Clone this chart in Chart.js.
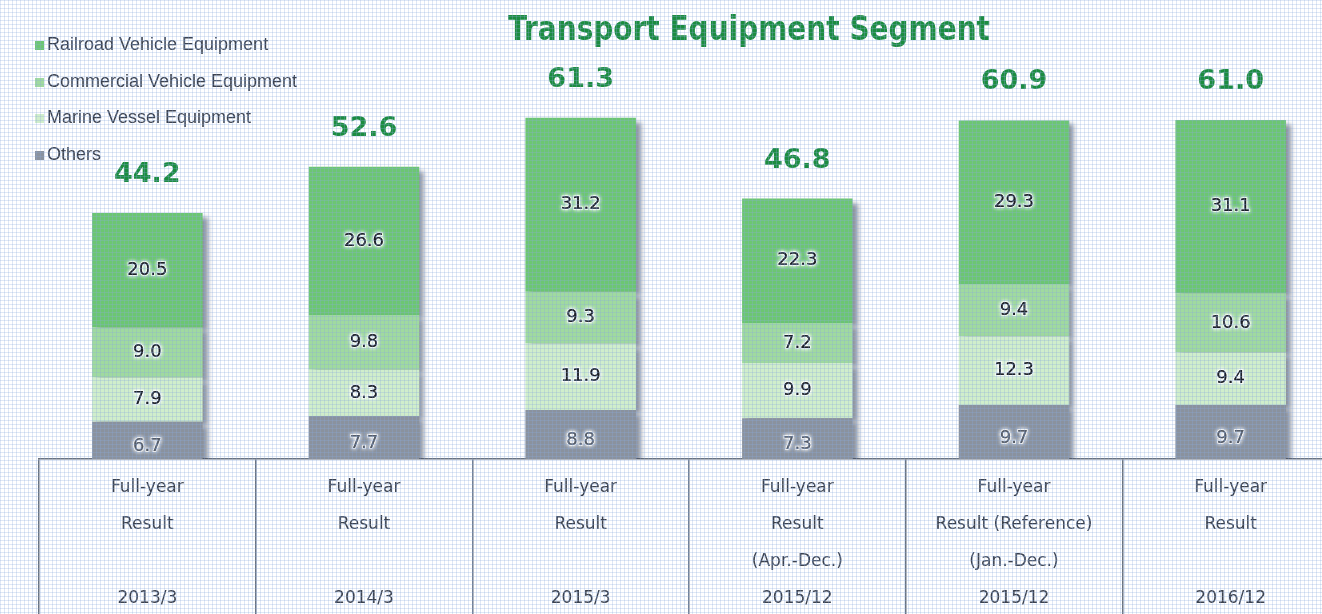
<!DOCTYPE html>
<html>
<head>
<meta charset="utf-8">
<title>Transport Equipment Segment</title>
<script src="https://cdn.jsdelivr.net/npm/chart.js@4.4.1/dist/chart.umd.min.js"></script>
<style>
  html, body { margin: 0; padding: 0; width: 1322px; height: 614px; overflow: hidden; background: #fff; }
  #wrap { position: relative; width: 1322px; height: 614px; overflow: hidden; }
  #chart { position: absolute; left: 0; top: 0; }
  /* fine blue grid that sits over the whole slide */
  #grid { position: absolute; left: 0; top: 0; right: 0; bottom: 0; pointer-events: none;
    background-image: linear-gradient(to right, rgba(140,170,220,.28) 1px, transparent 1px),
                      linear-gradient(to bottom, rgba(140,170,220,.28) 1px, transparent 1px);
    background-size: 4px 4px; }
</style>
</head>
<body>
<div id="wrap">
  <canvas id="chart" width="1345" height="614"></canvas>
  <div id="grid"></div>
</div>
<script>
// Periods shown in the table under the bars
const periods = ['2013/3', '2014/3', '2015/3', '2015/12', '2015/12', '2016/12'];
const periodNotes = [
    ['Full-year', 'Result', ''],
    ['Full-year', 'Result', ''],
    ['Full-year', 'Result', ''],
    ['Full-year', 'Result', '(Apr.-Dec.)'],
    ['Full-year', 'Result (Reference)', '(Jan.-Dec.)'],
    ['Full-year', 'Result', '']
];

// Sales by sub-segment (bottom of the stack is "Others")
const railroad = [20.5, 26.6, 31.2, 22.3, 29.3, 31.1];
const commercial = [9.0, 9.8, 9.3, 7.2, 9.4, 10.6];
const marine = [7.9, 8.3, 11.9, 9.9, 12.3, 9.4];
const others = [6.7, 7.7, 8.8, 7.3, 9.7, 9.7];
const totals = [44.2, 52.6, 61.3, 46.8, 60.9, 61.0];

const seriesNames = ['Railroad Vehicle Equipment', 'Commercial Vehicle Equipment', 'Marine Vessel Equipment', 'Others'];
const seriesColors = ['#6cc672', '#a0da9f', '#d0eecb', '#8a929e'];

const tickLabels = periods.map((p, i) => [...periodNotes[i], p]);

const green = '#1c8c40';
const textGray = '#3b4250';

// Title, legend, value labels, totals and the bar shadow
const segmentDecor = {
    id: 'segmentDecor',
    beforeDatasetsDraw(chart) {
        const ctx = chart.ctx;
        ctx.save();
        ctx.shadowColor = 'rgba(60, 70, 90, 0.6)';
        ctx.shadowBlur = 5;
        ctx.shadowOffsetX = 5;
        ctx.shadowOffsetY = 4;
    },
    afterDatasetsDraw(chart) {
        const ctx = chart.ctx;
        ctx.restore();

        // values inside each segment
        ctx.save();
        ctx.font = '18px "DejaVu Sans"';
        ctx.textAlign = 'center';
        ctx.textBaseline = 'middle';
        chart.data.datasets.forEach((ds, di) => {
            const meta = chart.getDatasetMeta(di);
            meta.data.forEach((bar, i) => {
                const { x, y, base } = bar.getProps(['x', 'y', 'base'], true);
                const txt = ds.data[i].toFixed(1);
                const isOthers = ds.label === 'Others';
                const ty = (y + base) / 2 + (isOthers ? 6 : 0);
                ctx.shadowColor = '#ffffff';
                ctx.shadowBlur = 4;
                ctx.strokeStyle = 'rgba(255,255,255,0.7)';
                ctx.lineWidth = 2;
                ctx.strokeText(txt, x, ty);
                ctx.fillStyle = isOthers ? '#555c68' : '#1c2028';
                ctx.fillText(txt, x, ty);
                ctx.fillText(txt, x, ty);
            });
        });
        ctx.restore();
    },
    afterDraw(chart) {
        const ctx = chart.ctx;
        const xScale = chart.scales.x;

        // totals above the stacks
        const topMeta = chart.getDatasetMeta(chart.data.datasets.length - 1);
        ctx.save();
        ctx.font = 'bold 27px "DejaVu Sans"';
        ctx.fillStyle = green;
        ctx.textAlign = 'center';
        ctx.textBaseline = 'alphabetic';
        totals.forEach((t, i) => {
            const bar = topMeta.data[i];
            ctx.fillText(t.toFixed(1), xScale.getPixelForValue(i), bar.y - 31);
        });

        // title
        const title = 'Transport Equipment Segment';
        ctx.font = 'bold 33px "DejaVu Sans"';
        const w = ctx.measureText(title).width;
        ctx.translate(749, 40);
        ctx.scale(482 / w, 1);
        ctx.fillText(title, 0, 0);
        ctx.restore();

        // legend
        ctx.save();
        ctx.font = '18px "Liberation Sans"';
        ctx.textBaseline = 'middle';
        ctx.textAlign = 'left';
        const rows = [45, 82, 118, 155];
        seriesNames.forEach((name, i) => {
            ctx.fillStyle = seriesColors[i];
            ctx.fillRect(35, rows[i] - 4, 9, 9);
            ctx.fillStyle = textGray;
            ctx.fillText(name, 47, rows[i]);
        });
        ctx.restore();
    }
};

const ctx = document.getElementById('chart').getContext('2d');

const stackOrder = [
    { label: 'Others', data: others, color: seriesColors[3] },
    { label: 'Marine Vessel Equipment', data: marine, color: seriesColors[2] },
    { label: 'Commercial Vehicle Equipment', data: commercial, color: seriesColors[1] },
    { label: 'Railroad Vehicle Equipment', data: railroad, color: seriesColors[0] }
];

const segmentChart = new Chart(ctx, {
    type: 'bar',
    data: {
        labels: tickLabels,
        datasets: stackOrder.map(s => ({
            label: s.label,
            data: s.data,
            backgroundColor: s.color,
            borderWidth: 0,
            categoryPercentage: 0.51,
            barPercentage: 1.0
        }))
    },
    options: {
        responsive: false,
        animation: false,
        devicePixelRatio: 1,
        layout: { padding: { left: 39, right: 6, top: 0, bottom: 0 } },
        plugins: {
            legend: { display: false },
            tooltip: { enabled: false }
        },
        scales: {
            x: {
                stacked: true,
                offset: true,
                grid: {
                    offset: true,
                    drawOnChartArea: false,
                    drawTicks: true,
                    tickLength: 155,
                    color: '#6a7380',
                    lineWidth: 1.5
                },
                border: { display: true, color: '#6a7380', width: 1.5 },
                ticks: {
                    padding: -144.5,
                    autoSkip: false,
                    maxRotation: 0,
                    color: textGray,
                    font: { family: '"DejaVu Sans"', size: 17, lineHeight: 37 / 17 }
                },
                afterFit(scale) { scale.height = 155; }
            },
            y: {
                stacked: true,
                display: false,
                min: 0,
                max: 82.3
            }
        }
    },
    plugins: [segmentDecor]
});
</script>
</body>
</html>
